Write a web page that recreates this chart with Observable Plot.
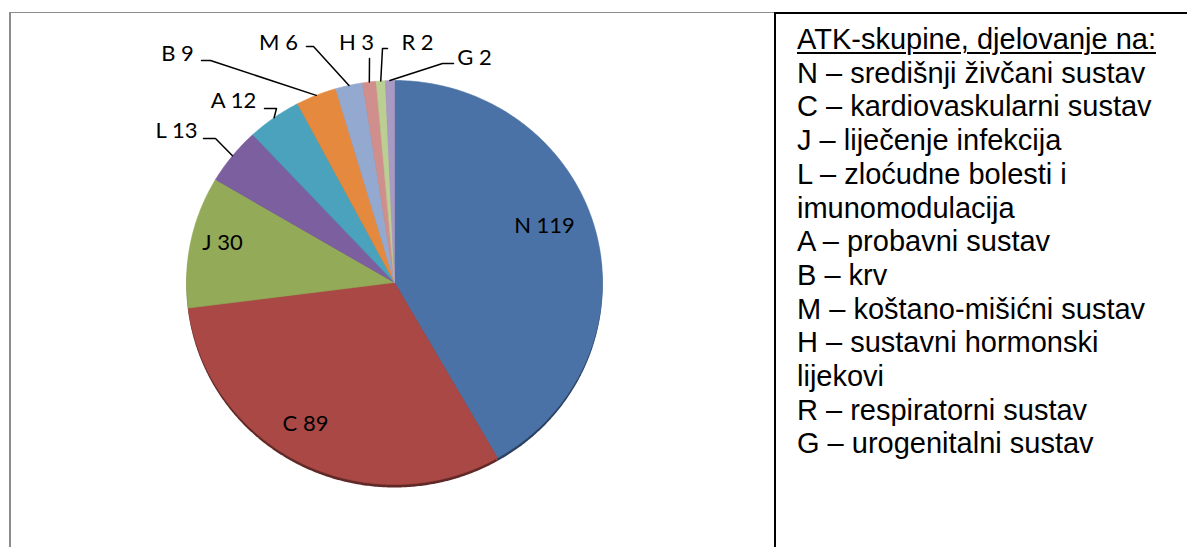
<!DOCTYPE html>
<html><head><meta charset="utf-8">
<script src="https://cdn.jsdelivr.net/npm/d3@7"></script>
<script src="https://cdn.jsdelivr.net/npm/@observablehq/plot@0.6"></script>
<style>
html,body{margin:0;padding:0;background:#fff;width:1187px;height:547px;overflow:hidden;}
#chartbox{position:absolute;left:9px;top:12px;width:766px;height:600px;border-left:2px solid #8c8c8c;border-top:1px solid #8c8c8c;box-sizing:border-box;}
#legendcell{position:absolute;left:774px;top:12px;width:430px;height:600px;border-left:2px solid #000;border-top:2px solid #000;box-sizing:border-box;}
#chart{position:absolute;left:0;top:0;}
#legend{position:absolute;left:797px;top:23px;width:385px;font-family:"Liberation Sans",Arial,sans-serif;font-size:29px;line-height:33.7px;color:#000;}
#legend .title{text-decoration:underline;text-decoration-thickness:2px;text-underline-offset:3px;}
</style>
</head><body>
<div id="chartbox"></div>
<div id="legendcell"></div>
<div id="chart"></div>
<div id="legend"></div>
<script>
// ---- data ----
const codes = ["N","C","J","L","A","B","M","H","R","G"];
const counts = [119, 89, 30, 13, 12, 9, 6, 3, 2, 2];
const colors = ["#4A72A6","#A94845","#93AA58","#7C5F9E","#4AA2BD","#E4893D","#93A9CF","#D08F8D","#BCCF92","#A99AC4"];
const legendTitle = "ATK-skupine, djelovanje na:";
const descriptions = [
  "središnji živčani sustav",
  "kardiovaskularni sustav",
  "liječenje infekcija",
  "zloćudne bolesti i imunomodulacija",
  "probavni sustav",
  "krv",
  "koštano-mišićni sustav",
  "sustavni hormonski lijekovi",
  "respiratorni sustav",
  "urogenitalni sustav"
];
const legendOrder = ["N","C","J","L","A","B","M","H","R","G"];

// ---- layout (pixel offsets from the pie centre) ----
const W = 775, H = 547, CX = 394, CY = 282, RX = 208, RY = 202;
const labelOffsetPx = {
  N: [150, -57], C: [-89, 141], J: [-172, -40], L: [-218, -152], A: [-161, -182],
  B: [-217, -229], M: [-116, -240], H: [-38, -240], R: [23, -240], G: [80, -225]
};
const leaderPx = {
  L: [[-191, -144], [-179, -144]],
  A: [[-130, -174], [-118, -174]],
  B: [[-193, -222], [-184, -222]],
  M: [[-88, -236], [-81, -236]],
  H: [[-25, -224]],
  R: [[-7, -234], [-12, -234]],
  G: [[59, -219], [48, -219]]
};
const ux = px => px / RX, uy = py => -py / RY;

// ---- build geometry from data ----
const arcs = d3.pie().sort(null).value(d => d)(counts);
const slices = [];
const slicePts = [];
arcs.forEach((a, i) => {
  const code = codes[i];
  const pts = [{code, x: 0, y: 0}];
  const n = Math.max(2, Math.ceil((a.endAngle - a.startAngle) / (Math.PI / 360)));
  for (let k = 0; k <= n; k++) {
    const t = a.startAngle + (a.endAngle - a.startAngle) * k / n;
    pts.push({code, x: Math.sin(t), y: Math.cos(t)});
  }
  pts.push({code, x: 0, y: 0});
  slices.push({code, pts, color: colors[i], mid: (a.startAngle + a.endAngle) / 2});
  slicePts.push(...pts);
});

const labels = codes.map((c, i) => ({
  code: c,
  text: `${c} ${counts[i]}`,
  x: ux(labelOffsetPx[c][0]),
  y: uy(labelOffsetPx[c][1])
}));

const leaderPts = [];
slices.forEach(s => {
  const lp = leaderPx[s.code];
  if (!lp) return;
  lp.forEach(p => leaderPts.push({code: s.code, x: ux(p[0]), y: uy(p[1])}));
  leaderPts.push({code: s.code, x: Math.sin(s.mid), y: Math.cos(s.mid)});
});

const shadowMarks = slices.map(s =>
  Plot.line(s.pts, {x: "x", y: "y", fill: d3.color(s.color).darker(1.6).formatHex(), stroke: "none", dy: 3, curve: "linear"})
);

const chart = Plot.plot({
  width: W, height: H,
  marginLeft: CX - RX, marginRight: W - CX - RX,
  marginTop: CY - RY, marginBottom: H - CY - RY,
  x: {domain: [-1, 1], axis: null},
  y: {domain: [-1, 1], axis: null},
  color: {domain: codes, range: colors},
  style: {background: "transparent", overflow: "visible"},
  marks: [
    ...shadowMarks,
    Plot.line(slicePts, {x: "x", y: "y", z: "code", fill: "code", stroke: "code", strokeWidth: 0.6, curve: "linear"}),
    Plot.line(leaderPts, {x: "x", y: "y", z: "code", stroke: "#000", strokeWidth: 1.5, curve: "linear"}),
    Plot.text(labels, {x: "x", y: "y", text: "text", fontSize: 22, fontFamily: "Lato", fill: "#000", textAnchor: "middle", lineAnchor: "middle"})
  ]
});
document.getElementById("chart").appendChild(chart);

// ---- legend ----
const lg = document.getElementById("legend");
const t = document.createElement("div");
t.className = "title";
t.textContent = legendTitle;
lg.appendChild(t);
legendOrder.forEach(c => {
  const d = document.createElement("div");
  d.textContent = `${c} – ${descriptions[codes.indexOf(c)]}`;
  lg.appendChild(d);
});
</script>
</body></html>
